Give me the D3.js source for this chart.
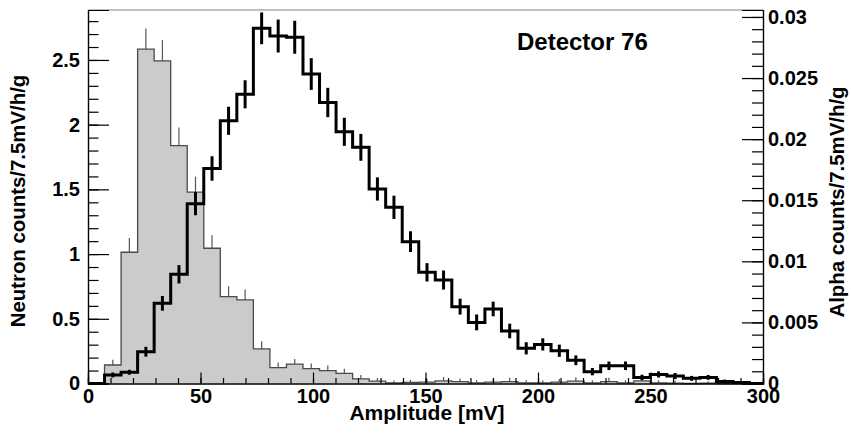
<!DOCTYPE html>
<html>
<head>
<meta charset="utf-8">
<script src="https://cdn.jsdelivr.net/npm/d3@7"></script>
<style>
  body { margin: 0; background: #fff; }
  text { font-family: "Liberation Sans", Arial, Helvetica, sans-serif; font-weight: bold; }
</style>
</head>
<body>
<div id="chart"></div>
<script>
// Bin layout (mV)
const binWidth = 7.35;
const nBins = 40;

// Neutron counts/7.5mV/h/g (left axis, grey filled histogram)
const neutron = [0.00, 0.143, 1.014, 2.583, 2.493, 1.838, 1.478, 1.045, 0.671, 0.646,
                 0.267, 0.122, 0.150, 0.115, 0.100, 0.079, 0.036, 0.018, 0.004, 0.008,
                 0.010, 0.020, 0.014, 0.005, 0.010, 0.015, 0.005, 0.004, 0.010, 0.018,
                 0.005, 0.015, 0.005, 0.020, 0.005, 0.003, 0.000, 0.002, 0.000, 0.000];
const neutronErr = [0.00, 0.04, 0.11, 0.16, 0.16, 0.14, 0.12, 0.10, 0.08, 0.08,
                    0.06, 0.04, 0.04, 0.04, 0.04, 0.035, 0.03, 0.025, 0.02, 0.02,
                    0.025, 0.03, 0.025, 0.02, 0.025, 0.03, 0.02, 0.02, 0.025, 0.03,
                    0.02, 0.03, 0.02, 0.03, 0.02, 0.02, 0.00, 0.015, 0.00, 0.00];

// Alpha counts/7.5mV/h/g (right axis, black histogram with errors), in units of 1e-3
const alpha = [0.00, 0.70, 0.92, 2.60, 6.56, 8.94, 14.72, 17.60, 21.50, 23.67,
               29.07, 28.44, 28.34, 25.33, 23.00, 20.60, 19.33, 15.92, 14.42, 11.61,
               9.10, 8.47, 6.29, 5.00, 6.10, 4.30, 2.88, 3.20, 2.68, 1.90,
               0.97, 1.45, 1.45, 0.50, 0.74, 0.61, 0.42, 0.50, 0.17, 0.09];
const alphaErr = [0.00, 0.20, 0.20, 0.40, 0.60, 0.75, 0.95, 1.00, 1.15, 1.15,
                  1.30, 1.35, 1.35, 1.30, 1.20, 1.15, 1.10, 0.95, 0.95, 0.85,
                  0.75, 0.78, 0.65, 0.65, 0.60, 0.60, 0.50, 0.50, 0.50, 0.40,
                  0.30, 0.35, 0.35, 0.22, 0.25, 0.25, 0.20, 0.20, 0.15, 0.10];

// Axis ticks
const xTicks = [0, 50, 100, 150, 200, 250, 300];
const leftTicks = [0, 0.5, 1, 1.5, 2, 2.5];
const rightTicks = [0, 0.005, 0.01, 0.015, 0.02, 0.025, 0.03];

var W = 851, H = 433;
var svg = d3.select("#chart").append("svg")
  .attr("width", W).attr("height", H);

// Scales
//-----------
var x = d3.scaleLinear([0, 300], [88, 763]);
var yL = d3.scaleLinear([0, 2.886], [383.5, 10]);
var yR = d3.scaleLinear([0, 0.03057], [383.5, 10]);

function stepPoints(vals) {
  var pts = [[0, 0]];
  vals.forEach(function(v, i) {
    pts.push([i * binWidth, v]);
    pts.push([(i + 1) * binWidth, v]);
  });
  pts.push([nBins * binWidth, 0]);
  return pts;
}

// Grey neutron histogram
//-----------
var gN = svg.append("g");
gN.selectAll("line.nerr")
  .data(neutron)
  .enter().append("line")
  .attr("class", "nerr")
  .attr("x1", function(d, i) { return x((i + 0.5) * binWidth); })
  .attr("x2", function(d, i) { return x((i + 0.5) * binWidth); })
  .attr("y1", function(d) { return yL(d); })
  .attr("y2", function(d, i) { return yL(d + neutronErr[i]); })
  .attr("stroke", "#555")
  .attr("stroke-width", 1.2);

var nLine = d3.line()
  .x(function(p) { return x(p[0]); })
  .y(function(p) { return yL(p[1]); });
gN.append("path")
  .attr("d", nLine(stepPoints(neutron)))
  .attr("fill", "#cbcbcb")
  .attr("stroke", "#4a4a4a")
  .attr("stroke-width", 1.3);

// Black alpha histogram
//-----------
var gA = svg.append("g");
var aPts = stepPoints(alpha.map(function(v) { return v / 1000; }));
aPts.push([300, 0]);
var aLine = d3.line()
  .x(function(p) { return x(p[0]); })
  .y(function(p) { return yR(p[1]); });
gA.append("path")
  .attr("d", aLine(aPts))
  .attr("fill", "none")
  .attr("stroke", "#000")
  .attr("stroke-width", 3);

gA.selectAll("line.aerr")
  .data(alpha)
  .enter().append("line")
  .attr("class", "aerr")
  .attr("x1", function(d, i) { return x((i + 0.5) * binWidth); })
  .attr("x2", function(d, i) { return x((i + 0.5) * binWidth); })
  .attr("y1", function(d, i) { return yR((d - alphaErr[i]) / 1000); })
  .attr("y2", function(d, i) { return yR((d + alphaErr[i]) / 1000); })
  .attr("stroke", "#000")
  .attr("stroke-width", 3);

// Frame
//-----------
svg.append("line")
  .attr("x1", 88).attr("x2", 763).attr("y1", 10).attr("y2", 10)
  .attr("stroke", "#aaa").attr("stroke-width", 1.5);

// Axes
//-----------
function styleAxis(g, size) {
  g.selectAll("path.domain").attr("stroke", "#000").attr("stroke-width", 1.2);
  g.selectAll(".tick line").attr("stroke", "#000").attr("stroke-width", 1.2);
  g.selectAll("text").attr("font-size", size).attr("fill", "#000")
    .attr("font-family", "Liberation Sans, Arial, sans-serif").attr("font-weight", "bold");
}

var fmt = function(d) { return String(+d.toFixed(3)); };

// x minor + major
var gxm = svg.append("g").attr("transform", "translate(0,383.5)")
  .call(d3.axisBottom(x).tickValues(d3.range(0, 301, 10)).tickSize(-5.5).tickFormat(""));
styleAxis(gxm, 20);
var gx = svg.append("g").attr("transform", "translate(0,383.5)")
  .call(d3.axisBottom(x).tickValues(xTicks).tickSize(-11).tickPadding(5).tickFormat(fmt));
styleAxis(gx, 20);

// left minor + major
var gym = svg.append("g").attr("transform", "translate(88,0)")
  .call(d3.axisLeft(yL).tickValues(d3.range(0, 2.85, 0.1)).tickSize(-10.5).tickFormat(""));
styleAxis(gym, 20);
var gy = svg.append("g").attr("transform", "translate(88,0)")
  .call(d3.axisLeft(yL).tickValues(leftTicks).tickSize(-21).tickPadding(8).tickFormat(fmt));
styleAxis(gy, 20);

// right minor + major
var grm = svg.append("g").attr("transform", "translate(763,0)")
  .call(d3.axisRight(yR).tickValues(d3.range(0, 0.0305, 0.001)).tickSize(-11).tickFormat(""));
styleAxis(grm, 20);
var gr = svg.append("g").attr("transform", "translate(763,0)")
  .call(d3.axisRight(yR).tickValues(rightTicks).tickSize(-21).tickPadding(5).tickFormat(fmt));
styleAxis(gr, 20);

// Titles
//-----------
svg.append("text")
  .text("Amplitude [mV]")
  .attr("x", 427).attr("y", 420)
  .attr("text-anchor", "middle")
  .attr("font-size", "21px");

svg.append("text")
  .text("Neutron counts/7.5mV/h/g")
  .attr("text-anchor", "middle")
  .attr("transform", "translate(25,201) rotate(-90)")
  .attr("font-size", "20.4px");

svg.append("text")
  .text("Alpha counts/7.5mV/h/g")
  .attr("text-anchor", "middle")
  .attr("transform", "translate(844,202) rotate(-90)")
  .attr("font-size", "20.4px");

svg.append("text")
  .text("Detector 76")
  .attr("x", 517).attr("y", 50)
  .attr("font-size", "24px");
</script>
</body>
</html>
